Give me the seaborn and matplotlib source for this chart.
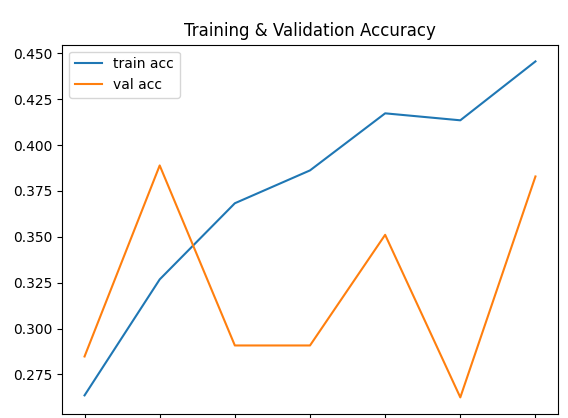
import matplotlib
matplotlib.use('Agg')
import matplotlib.pyplot as plt
import seaborn as sns

# Datos
epocas = [0, 1, 2, 3, 4, 5, 6]
train_acc = [0.2636, 0.3268, 0.3683, 0.3862, 0.4173, 0.4135, 0.4456]
val_acc = [0.2848, 0.3889, 0.2908, 0.2908, 0.3511, 0.2625, 0.3829]

fig = plt.figure(figsize=(5.68, 4.18), dpi=100)
# figura recortada: el eje llega casi al borde inferior
ax = fig.add_axes([62 / 568, 3.8 / 418, 496 / 568, 369.6 / 418])

sns.lineplot(x=epocas, y=train_acc, label='train acc', ax=ax)
sns.lineplot(x=epocas, y=val_acc, label='val acc', ax=ax)

ax.set_title('Training & Validation Accuracy')
ax.legend(loc='upper left')

fig.savefig('out.png', dpi=100)
